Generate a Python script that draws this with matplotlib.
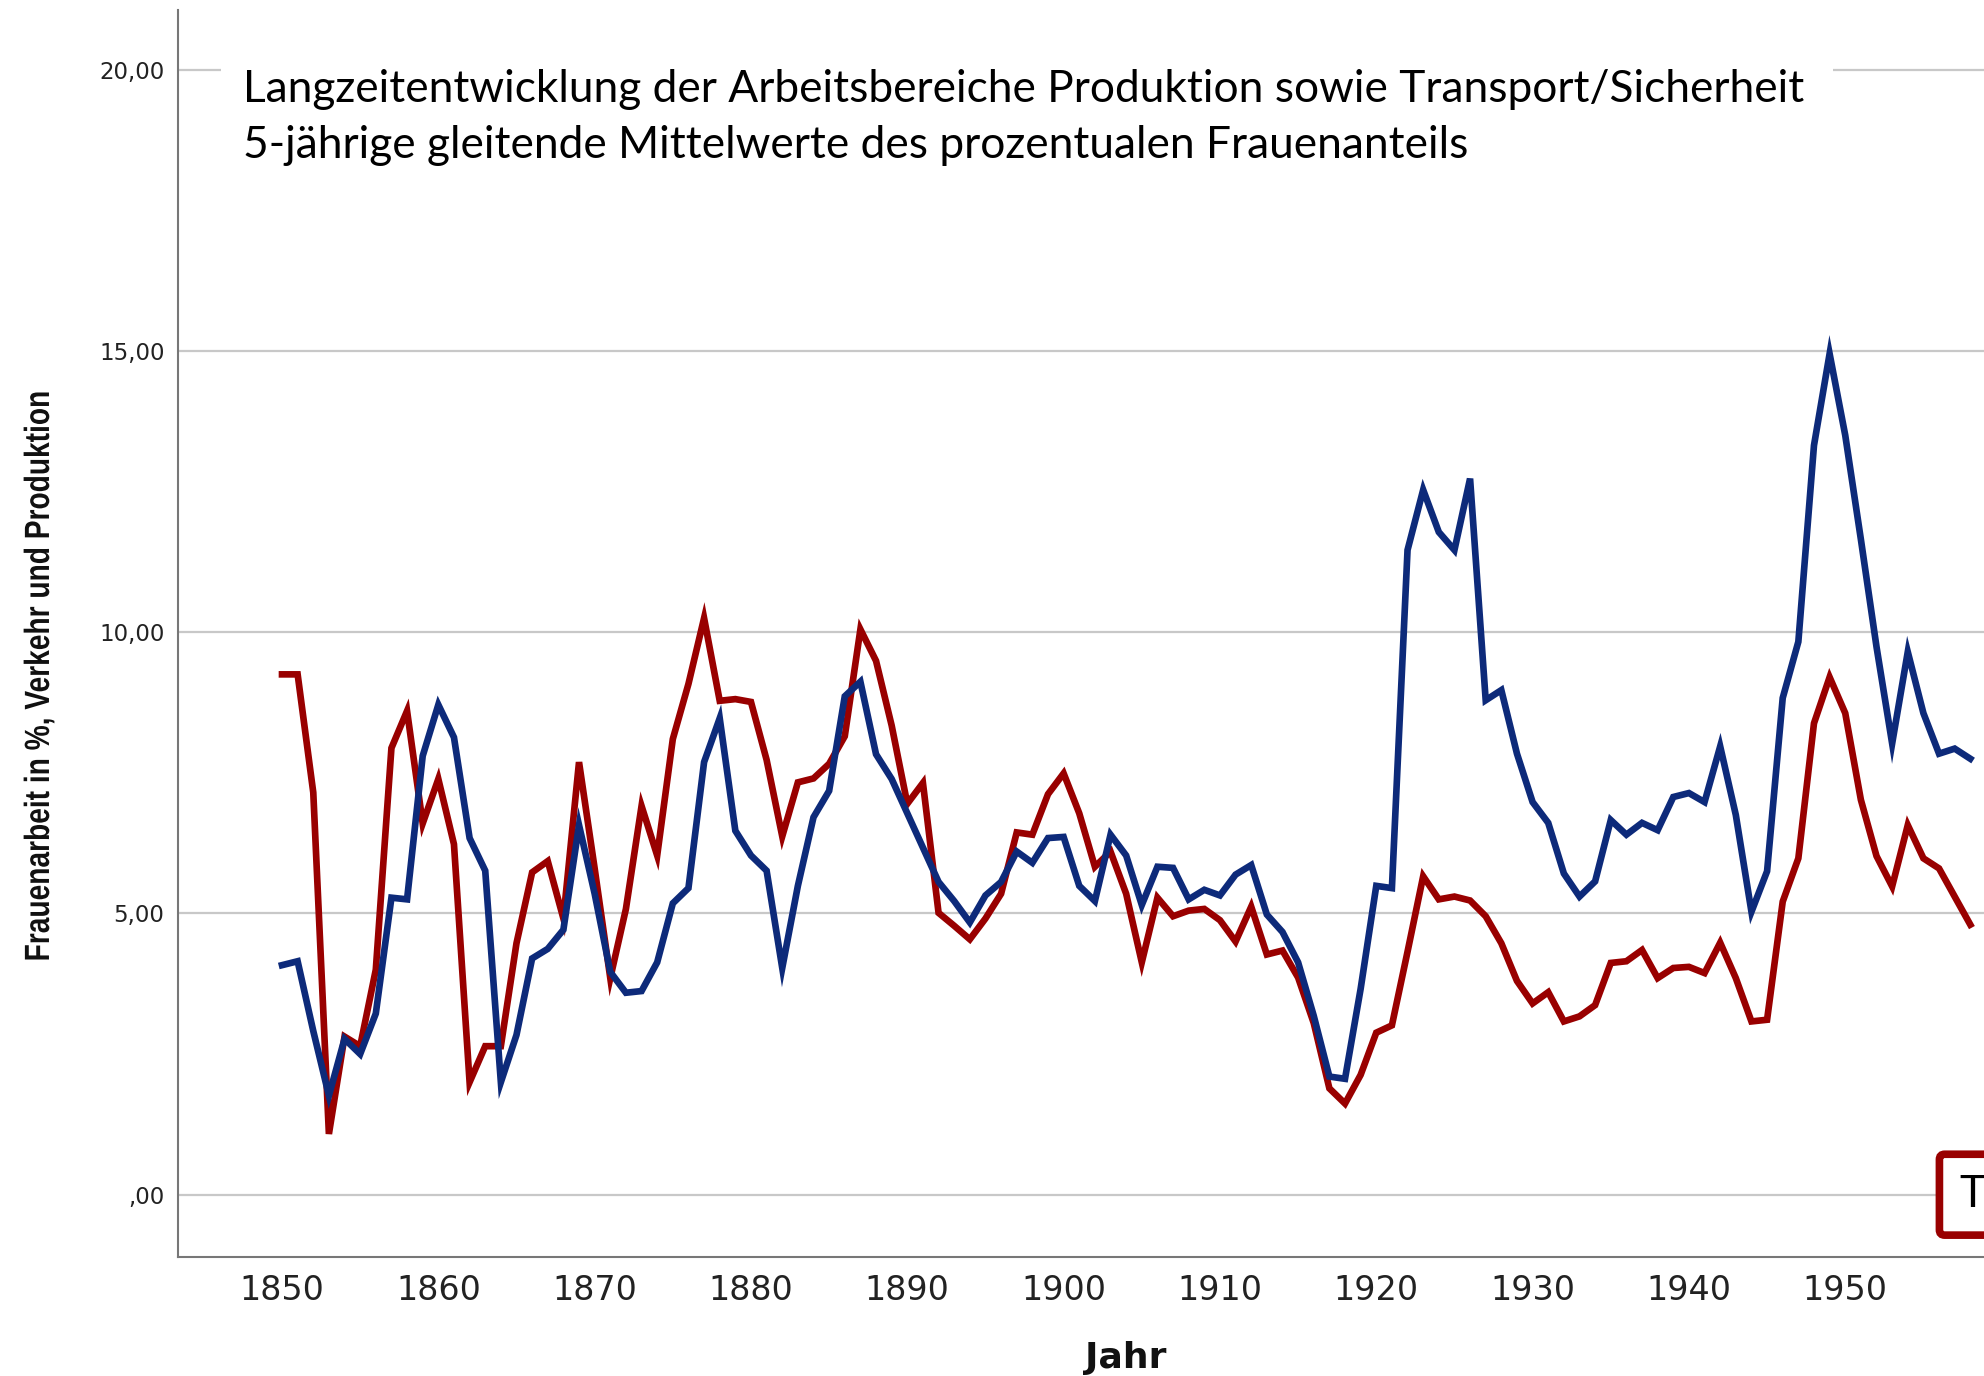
import matplotlib
matplotlib.use("Agg")
import matplotlib.pyplot as plt
from matplotlib.patches import Rectangle, PathPatch
from matplotlib.textpath import TextPath
from matplotlib.font_manager import FontProperties
from matplotlib.transforms import Affine2D

# 5-year moving averages, share of women in %
years = list(range(1850, 1959))

transport = [9.25, 9.25, 7.15, 1.08, 2.81, 2.64, 4.0, 7.94, 8.6, 6.6,
             7.39, 6.23, 2.0, 2.64, 2.64, 4.47, 5.73, 5.93, 4.91, 7.69,
             5.8, 3.85, 5.08, 6.91, 6.03, 8.1, 9.08, 10.25, 8.78, 8.81,
             8.76, 7.73, 6.37, 7.33, 7.4, 7.66, 8.15, 10.05, 9.49, 8.34,
             6.95, 7.32, 5.01, 4.78, 4.54, 4.91, 5.35, 6.44, 6.4, 7.12,
             7.49, 6.78, 5.83, 6.1, 5.35, 4.13, 5.28, 4.95, 5.05, 5.08,
             4.88, 4.5, 5.12, 4.27, 4.34, 3.86, 3.05, 1.89, 1.62, 2.13,
             2.88, 3.01, 4.32, 5.66, 5.25, 5.3, 5.23, 4.95, 4.47, 3.8,
             3.4, 3.6, 3.08, 3.17, 3.37, 4.12, 4.15, 4.35, 3.85, 4.03,
             4.05, 3.94, 4.48, 3.85, 3.08, 3.11, 5.21, 5.98, 8.38, 9.2,
             8.56, 7.02, 6.02, 5.48, 6.57, 5.98, 5.8, 5.3, 4.8]

produktion = [4.08, 4.15, 2.91, 1.76, 2.77, 2.5, 3.22, 5.28, 5.25, 7.8,
              8.71, 8.13, 6.34, 5.76, 2.0, 2.84, 4.2, 4.37, 4.71, 6.57,
              5.35, 3.96, 3.59, 3.62, 4.13, 5.18, 5.45, 7.69, 8.47, 6.47,
              6.03, 5.76, 4.03, 5.49, 6.71, 7.18, 8.86, 9.12, 7.83, 7.39,
              6.78, 6.17, 5.56, 5.22, 4.84, 5.32, 5.56, 6.1, 5.9, 6.34,
              6.36, 5.49, 5.22, 6.4, 6.03, 5.15, 5.83, 5.81, 5.25, 5.42,
              5.32, 5.69, 5.86, 4.98, 4.67, 4.13, 3.18, 2.1, 2.06, 3.66,
              5.49, 5.45, 11.46, 12.53, 11.78, 11.46, 12.73, 8.79, 8.97, 7.84,
              6.98, 6.61, 5.71, 5.3, 5.57, 6.66, 6.4, 6.61, 6.48, 7.07,
              7.14, 6.98, 7.97, 6.75, 5.03, 5.75, 8.83, 9.83, 13.32, 14.95,
              13.5, 11.65, 9.74, 8.02, 9.65, 8.56, 7.84, 7.93, 7.75]

yticks = [0, 5, 10, 15, 20]
ytick_labels = [",00", "5,00", "10,00", "15,00", "20,00"]
xticks = list(range(1850, 1951, 10))

title1 = "Langzeitentwicklung der Arbeitsbereiche Produktion sowie Transport/Sicherheit"
title2 = "5-jährige gleitende Mittelwerte des prozentualen Frauenanteils"
ylabel = "Frauenarbeit in %, Verkehr und Produktion"

red = "#990000"
blue = "#0d2a7a"

fig = plt.figure(figsize=(19.84, 13.76), dpi=100)
ax = fig.add_axes([0.0899, 0.0868, 0.9552, 0.9059])

ax.plot(years, transport, color=red, lw=4.8, solid_joinstyle="miter", zorder=3)
ax.plot(years, produktion, color=blue, lw=4.8, solid_joinstyle="miter", zorder=4)

ax.set_xlim(1843.37, 1964.6)
ax.set_ylim(-1.10, 21.06)

ax.set_yticks(yticks)
ax.set_yticklabels(ytick_labels)
ax.set_xticks(xticks)
ax.tick_params(axis="x", length=0, pad=12.5, labelsize=24, labelcolor="#222222")
ax.tick_params(axis="y", length=0, pad=10, labelsize=16.5, labelcolor="#222222")

ax.grid(axis="y", color="#c8c8c8", lw=1.6)
ax.set_axisbelow(True)
for s in ["top", "right"]:
    ax.spines[s].set_visible(False)
for s in ["left", "bottom"]:
    ax.spines[s].set_color("#777777")
    ax.spines[s].set_linewidth(1.5)

ax.set_xlabel("Jahr", fontsize=26, fontweight="bold", color="#111111")
ax.xaxis.set_label_coords(0.5, -0.0895)
ax.xaxis.label.set_va("baseline")

# y label: condensed bold text, drawn as a squeezed text path
tp = TextPath((0, 0), ylabel, size=100,
              prop=FontProperties(family="Liberation Sans", weight="bold"))
ext = tp.get_extents()
sx = 567 / ext.width
sy = 35 / 100
tr = (Affine2D().translate(-ext.x0 - ext.width / 2, -ext.y0 - ext.height / 2)
      .scale(sx, sy).rotate_deg(90).translate(39, 1376 - 676))
fig.add_artist(PathPatch(tp, transform=tr, facecolor="#111111", edgecolor="none"))

# white box behind the title hides the 20,00 gridline
fig.add_artist(Rectangle((220.7 / 1984, 1 - 190 / 1376), (1832.6 - 220.7) / 1984,
                         160 / 1376, transform=fig.transFigure,
                         facecolor="white", edgecolor="none", zorder=2))
fig.text(243 / 1984, 1 - 101.7 / 1376, title1, fontsize=31.9, family="Lato",
         va="baseline", ha="left", zorder=3)
fig.text(243 / 1984, 1 - 158.3 / 1376, title2, fontsize=31.9, family="Lato",
         va="baseline", ha="left", zorder=3)

ax.text(1957.3, 0, "Transport/Sicherheit", fontsize=31.9, family="Lato",
        va="center", ha="left", zorder=5,
        bbox=dict(boxstyle="round,pad=0.45,rounding_size=0.12",
                  facecolor="white", edgecolor=red, lw=5.5))

fig.savefig("out.png", dpi=100)
